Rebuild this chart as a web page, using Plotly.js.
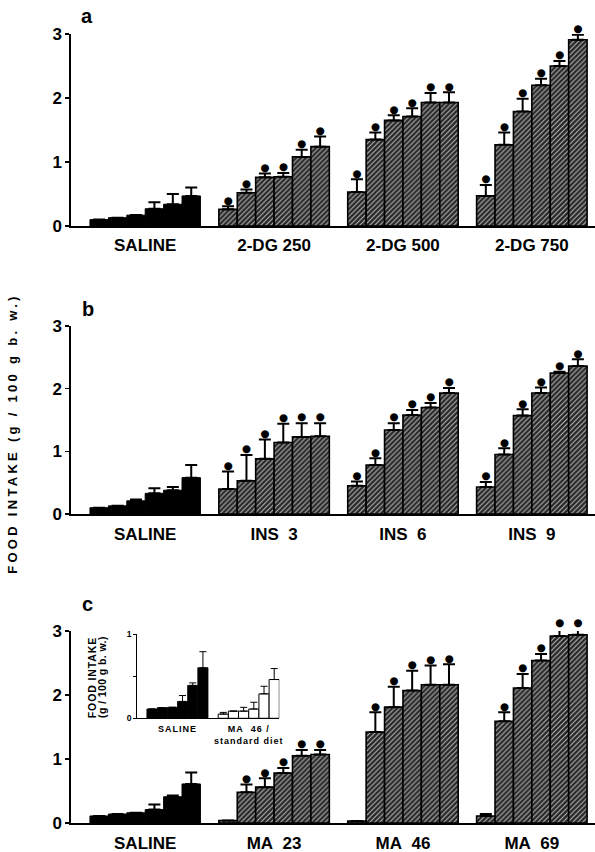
<!DOCTYPE html>
<html><head><meta charset="utf-8">
<script src="https://cdn.plot.ly/plotly-3.0.1.min.js"></script>
<style>
html,body{margin:0;padding:0;background:#fff;}
#chart{width:595px;height:852px;}
</style>
</head><body><div id="chart"></div>
<script>
// ---------- DATA ----------
// Panel a
const labelsA = ['SALINE', '2-DG 250', '2-DG 500', '2-DG 750'];
const salineA = [0.10, 0.13, 0.17, 0.27, 0.34, 0.47];
const salineAErr = [0, 0, 0, 0.10, 0.16, 0.13];
const salineASig = [0, 0, 0, 0, 0, 0];
const dg250 = [0.26, 0.52, 0.76, 0.77, 1.08, 1.24];
const dg250Err = [0.05, 0.05, 0.06, 0.06, 0.11, 0.16];
const dg250Sig = [1, 1, 1, 1, 1, 1];
const dg500 = [0.53, 1.35, 1.65, 1.71, 1.93, 1.93];
const dg500Err = [0.20, 0.11, 0.08, 0.13, 0.15, 0.16];
const dg500Sig = [1, 1, 1, 1, 1, 1];
const dg750 = [0.47, 1.27, 1.79, 2.20, 2.50, 2.91];
const dg750Err = [0.17, 0.19, 0.20, 0.10, 0.08, 0.08];
const dg750Sig = [1, 1, 1, 1, 1, 1];

// Panel b
const labelsB = ['SALINE', 'INS\u00a0 3', 'INS\u00a0 6', 'INS\u00a0 9'];
const salineB = [0.10, 0.13, 0.21, 0.33, 0.38, 0.58];
const salineBErr = [0, 0, 0.02, 0.08, 0.05, 0.20];
const salineBSig = [0, 0, 0, 0, 0, 0];
const ins3 = [0.40, 0.53, 0.88, 1.14, 1.23, 1.24];
const ins3Err = [0.28, 0.41, 0.31, 0.30, 0.22, 0.21];
const ins3Sig = [1, 1, 1, 1, 1, 1];
const ins6 = [0.45, 0.78, 1.34, 1.58, 1.70, 1.93];
const ins6Err = [0.07, 0.11, 0.11, 0.08, 0.07, 0.08];
const ins6Sig = [1, 1, 1, 1, 1, 1];
const ins9 = [0.43, 0.95, 1.57, 1.93, 2.25, 2.36];
const ins9Err = [0.08, 0.10, 0.10, 0.09, 0.02, 0.11];
const ins9Sig = [1, 1, 1, 1, 1, 1];

// Panel c
const labelsC = ['SALINE', 'MA\u00a0 23', 'MA\u00a0 46', 'MA\u00a0 69'];
const salineC = [0.11, 0.14, 0.16, 0.21, 0.41, 0.61];
const salineCErr = [0, 0, 0, 0.08, 0.02, 0.18];
const salineCSig = [0, 0, 0, 0, 0, 0];
const ma23 = [0.04, 0.48, 0.56, 0.78, 1.05, 1.07];
const ma23Err = [0, 0.12, 0.14, 0.08, 0.09, 0.07];
const ma23Sig = [0, 1, 1, 1, 1, 1];
const ma46 = [0.03, 1.42, 1.81, 2.07, 2.16, 2.16];
const ma46Err = [0, 0.31, 0.32, 0.31, 0.30, 0.32];
const ma46Sig = [0, 1, 1, 1, 1, 1];
const ma69 = [0.11, 1.59, 2.11, 2.54, 2.92, 2.94];
const ma69Err = [0.03, 0.14, 0.22, 0.10, 0.11, 0.09];
const ma69Sig = [0, 1, 1, 1, 1, 1];

// Inset (panel c)
const insetLabels = ['SALINE', 'MA\u00a0 46 /<br>standard diet'];
const insetSaline = [0.11, 0.125, 0.13, 0.20, 0.39, 0.60];
const insetSalineErr = [0, 0, 0, 0.07, 0.03, 0.19];
const insetMA46 = [0.05, 0.085, 0.085, 0.11, 0.29, 0.46];
const insetMA46Err = [0.02, 0, 0.045, 0.08, 0.09, 0.13];

const yTickVals = [0, 1, 2, 3];
const yTickText = ['0', '1', '2', '3'];
const insetTickVals = [0, 0.5, 1];
const insetTickText = ['0', '', '1'];

// ---------- LAYOUT HELPERS ----------
const W = 595, H = 852;
const FONT = 'Liberation Sans, Arial, Helvetica, sans-serif';
const STRIDE = 7; // bars per group incl. one-bar gap
const barX = g => [0, 1, 2, 3, 4, 5].map(i => g * STRIDE + i);
const groupCenters = n => Array.from({length: n}, (_, g) => g * STRIDE + 2.5);
const px2x = p => p / W;
const px2y = p => 1 - p / H;

const YMAX = 3, DOT_YMAX = 3.4;
// pixel extents of the three main panels: [bottom(y=0), top(y=3)]
const panelPx = [[226, 34], [514, 326], [823, 631]];
const mainDomain = k => [px2y(panelPx[k][0]), px2y(panelPx[k][1])];
// taller invisible axis with identical scale, so significance dots above 3 stay visible
const dotDomain = k => {
  const [b, t] = panelPx[k];
  return [px2y(b), px2y(b - (b - t) * DOT_YMAX / YMAX)];
};

const hatch = {shape: '/', fillmode: 'replace', bgcolor: '#262626', fgcolor: '#b4b4b4', size: 3.5, solidity: 0.32};

function panel(groups, errs, xa, ya) {
  return groups.map((vals, g) => ({
    type: 'bar', x: barX(g), y: vals, width: 1, xaxis: xa, yaxis: ya,
    marker: g === 0
      ? {color: '#000', line: {color: '#000', width: 1}}
      : {color: '#262626', line: {color: '#000', width: 1.6}, pattern: hatch},
    error_y: {type: 'data', symmetric: false, array: errs[g], arrayminus: vals.map(() => 0),
              color: '#000', thickness: 2, width: 6, visible: true},
    hoverinfo: 'skip', showlegend: false
  }));
}

function dots(groups, errs, sigs, xa, ya) {
  const xs = [], ys = [];
  groups.forEach((vals, g) => vals.forEach((v, i) => {
    if (sigs[g][i]) { xs.push(g * STRIDE + i); ys.push(v + errs[g][i]); }
  }));
  return {type: 'scatter', mode: 'text', x: xs, y: ys, text: '\u25CF', textposition: 'top center',
    textfont: {family: 'DejaVu Sans', size: 10.5, color: '#000'}, cliponaxis: false,
    xaxis: xa, yaxis: ya, hoverinfo: 'skip', showlegend: false};
}

const traces = [
  ...panel([salineA, dg250, dg500, dg750], [salineAErr, dg250Err, dg500Err, dg750Err], 'x', 'y'),
  ...panel([salineB, ins3, ins6, ins9], [salineBErr, ins3Err, ins6Err, ins9Err], 'x2', 'y2'),
  ...panel([salineC, ma23, ma46, ma69], [salineCErr, ma23Err, ma46Err, ma69Err], 'x3', 'y3'),
  dots([salineA, dg250, dg500, dg750], [salineAErr, dg250Err, dg500Err, dg750Err],
       [salineASig, dg250Sig, dg500Sig, dg750Sig], 'x', 'y5'),
  dots([salineB, ins3, ins6, ins9], [salineBErr, ins3Err, ins6Err, ins9Err],
       [salineBSig, ins3Sig, ins6Sig, ins9Sig], 'x2', 'y6'),
  dots([salineC, ma23, ma46, ma69], [salineCErr, ma23Err, ma46Err, ma69Err],
       [salineCSig, ma23Sig, ma46Sig, ma69Sig], 'x3', 'y7'),
  {type: 'bar', x: barX(0), y: insetSaline, width: 1, xaxis: 'x4', yaxis: 'y4',
   marker: {color: '#000', line: {color: '#000', width: 0.8}},
   error_y: {type: 'data', symmetric: false, array: insetSalineErr, arrayminus: insetSaline.map(() => 0),
             color: '#000', thickness: 1, width: 3.5},
   hoverinfo: 'skip', showlegend: false},
  {type: 'bar', x: barX(1), y: insetMA46, width: 1, xaxis: 'x4', yaxis: 'y4',
   marker: {color: '#fff', line: {color: '#000', width: 1}},
   error_y: {type: 'data', symmetric: false, array: insetMA46Err, arrayminus: insetMA46.map(() => 0),
             color: '#000', thickness: 1, width: 3.5},
   hoverinfo: 'skip', showlegend: false}
];

const ann = (x, y, text, size, extra) => Object.assign({xref: 'paper', yref: 'paper', x: px2x(x), y: px2y(y),
  xanchor: 'center', yanchor: 'middle', text: text, showarrow: false,
  font: {family: FONT, size: size, weight: 700, color: '#000'}}, extra || {});

const annotations = [
  // panel letters
  ann(87, 16, 'a', 20),
  ann(88, 309, 'b', 20),
  ann(87, 604, 'c', 20),
  // main y title
  ann(12, 434, 'FOOD INTAKE (g / 100 g b. w.)', 13, {textangle: -90}),
  // inset y title (two lines)
  ann(92.3, 677, 'FOOD INTAKE', 10.5, {textangle: -90}),
  ann(101.5, 677, '(g / 100 g b. w.)', 10.5, {textangle: -90})
];

function xAxis(domain, anchor, labels, range, fontSize, lw, standoff) {
  return {domain: domain, anchor: anchor, range: range, showline: true, linecolor: '#000', linewidth: lw,
    tickvals: groupCenters(labels.length), ticktext: labels, ticks: '', ticklabelstandoff: standoff,
    tickfont: {family: FONT, size: fontSize, weight: 700, color: '#000'},
    showgrid: false, zeroline: false, fixedrange: true};
}
function yAxis(domain, anchor, range, vals, text, fontSize, lw, tl) {
  return {domain: domain, anchor: anchor, range: range, showline: true, linecolor: '#000', linewidth: lw,
    tickvals: vals, ticktext: text, ticks: 'outside', ticklen: tl, tickwidth: lw, tickcolor: '#000',
    tickfont: {family: FONT, size: fontSize, weight: 700, color: '#000'},
    showgrid: false, zeroline: false, fixedrange: true};
}
const hiddenY = (domain, anchor) => ({domain: domain, anchor: anchor, range: [0, DOT_YMAX], visible: false,
  showgrid: false, zeroline: false, fixedrange: true});

const mainXDomain = [px2x(71), 1];
const mainXRange = [-1.53, 26.93];

const layout = {
  width: W, height: H, margin: {l: 0, r: 0, t: 0, b: 0},
  paper_bgcolor: '#fff', plot_bgcolor: 'rgba(0,0,0,0)', barmode: 'overlay', showlegend: false,
  font: {family: FONT, color: '#000'},
  xaxis: xAxis(mainXDomain, 'y', labelsA, mainXRange, 17, 2, 3),
  yaxis: yAxis(mainDomain(0), 'x', [0, YMAX], yTickVals, yTickText, 17, 1.6, 4),
  xaxis2: xAxis(mainXDomain, 'y2', labelsB, mainXRange, 17, 2, 4),
  yaxis2: yAxis(mainDomain(1), 'x2', [0, YMAX], yTickVals, yTickText, 17, 1.6, 4),
  xaxis3: xAxis(mainXDomain, 'y3', labelsC, mainXRange, 17, 2, 4),
  yaxis3: yAxis(mainDomain(2), 'x3', [0, YMAX], yTickVals, yTickText, 17, 1.6, 4),
  xaxis4: xAxis([px2x(136.7), px2x(279.3)], 'y4', insetLabels, [-1.5, 12.5], 9, 1, 2),
  yaxis4: yAxis([px2y(718.3), px2y(634)], 'x4', [0, 1], insetTickVals, insetTickText, 8.5, 1, 2.5),
  yaxis5: hiddenY(dotDomain(0), 'x'),
  yaxis6: hiddenY(dotDomain(1), 'x2'),
  yaxis7: hiddenY(dotDomain(2), 'x3'),
  annotations: annotations
};

Plotly.newPlot('chart', traces, layout, {staticPlot: true, displayModeBar: false}).then(gd => {
  gd.querySelectorAll('.annotation-text').forEach(t => {
    const s = t.textContent;
    if (s === 'FOOD INTAKE (g / 100 g b. w.)') t.style.letterSpacing = '3.3px';
    if (s === 'FOOD INTAKE') t.style.letterSpacing = '0.9px';
    if (s === '(g / 100 g b. w.)') t.style.letterSpacing = '0.4px';
  });
  gd.querySelectorAll('.x4tick text').forEach(t => { t.style.letterSpacing = '1px'; });
});
</script>
</body></html>
